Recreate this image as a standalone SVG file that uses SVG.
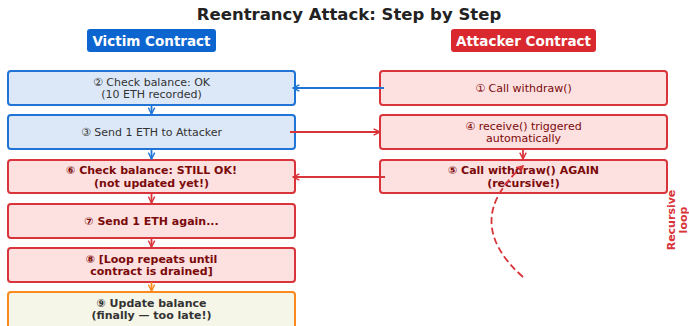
<svg xmlns="http://www.w3.org/2000/svg" width="689" height="326" viewBox="0 0 689 326">
<style>
text{font-family:"DejaVu Sans","Liberation Sans",sans-serif;text-anchor:middle}
.title{font-size:16.5px;font-weight:bold;fill:#222}
.hdr{font-size:13.5px;font-weight:bold;fill:#fff}
.t{font-size:11px}
.b{font-weight:bold}
.blue rect{fill:#dce8f8;stroke:#1f74d6;stroke-width:2}
.red rect{fill:#fde0e0;stroke:#d9343a;stroke-width:2}
.orange rect{fill:#f5f5e8;stroke:#fb8a1e;stroke-width:2}
.gray{fill:#333}
.dred{fill:#7a0a0a}
.cb{stroke:#1f74d6;stroke-width:1.8;fill:none}
.cr{stroke:#d9343a;stroke-width:1.8;fill:none}
.co{stroke:#fb8a1e;stroke-width:1.8;fill:none}
</style>
<defs>
<marker id="ab" viewBox="0 0 10 10" refX="9" refY="5" markerWidth="8" markerHeight="8" markerUnits="userSpaceOnUse" orient="auto"><path d="M1,1 L9,5 L1,9" fill="none" stroke="#1f74d6" stroke-width="1.8"/></marker>
<marker id="ar" viewBox="0 0 10 10" refX="9" refY="5" markerWidth="8" markerHeight="8" markerUnits="userSpaceOnUse" orient="auto"><path d="M1,1 L9,5 L1,9" fill="none" stroke="#d9343a" stroke-width="1.8"/></marker>
<marker id="ao" viewBox="0 0 10 10" refX="9" refY="5" markerWidth="8" markerHeight="8" markerUnits="userSpaceOnUse" orient="auto"><path d="M1,1 L9,5 L1,9" fill="none" stroke="#fb8a1e" stroke-width="1.8"/></marker>
</defs>
<rect width="689" height="326" fill="#fff"/>
<text class="title" x="349" y="20">Reentrancy Attack: Step by Step</text>
<g id="hdr-victim"><rect x="87" y="29" width="129" height="23" rx="3" fill="#0d66d0"/><text class="hdr" x="151.5" y="45.5">Victim Contract</text></g>
<g id="hdr-attacker"><rect x="451" y="29" width="145" height="23" rx="3" fill="#d9282e"/><text class="hdr" x="523.5" y="45.5">Attacker Contract</text></g>

<g id="n2" class="blue"><rect x="8" y="71" width="287" height="34" rx="3"/><text class="t gray" x="151.5" y="85.5">② Check balance: OK</text><text class="t gray" x="151.5" y="98">(10 ETH recorded)</text></g>
<g id="n3" class="blue"><rect x="8" y="115" width="287" height="34" rx="3"/><text class="t gray" x="151.5" y="136">③ Send 1 ETH to Attacker</text></g>
<g id="n6" class="red"><rect x="8" y="160" width="287" height="33" rx="3"/><text class="t b dred" x="151.5" y="174">⑥ Check balance: STILL OK!</text><text class="t b dred" x="151.5" y="186.5">(not updated yet!)</text></g>
<g id="n7" class="red"><rect x="8" y="204" width="287" height="34" rx="3"/><text class="t b dred" x="151.5" y="224.5">⑦ Send 1 ETH again...</text></g>
<g id="n8" class="red"><rect x="8" y="248" width="287" height="34" rx="3"/><text class="t b dred" x="151.5" y="262.5">⑧ [Loop repeats until</text><text class="t b dred" x="151.5" y="275">contract is drained]</text></g>
<g id="n9" class="orange"><rect x="8" y="292" width="287" height="38" rx="3"/><text class="t b gray" x="151.5" y="306.5">⑨ Update balance</text><text class="t b gray" x="151.5" y="319">(finally — too late!)</text></g>

<g id="n1" class="red"><rect x="380" y="71" width="287" height="34" rx="3"/><text class="t dred" x="523.5" y="92">① Call withdraw()</text></g>
<g id="n4" class="red"><rect x="380" y="115" width="287" height="34" rx="3"/><text class="t dred" x="523.5" y="129.5">④ receive() triggered</text><text class="t dred" x="523.5" y="142">automatically</text></g>
<g id="n5" class="red"><rect x="380" y="160" width="287" height="33" rx="3"/><text class="t b dred" x="523.5" y="174">⑤ Call withdraw() AGAIN</text><text class="t b dred" x="523.5" y="186.5">(recursive!)</text></g>

<g id="connectors">
<line class="cb" x1="151.5" y1="105" x2="151.5" y2="114" marker-end="url(#ab)"/>
<line class="cb" x1="151.5" y1="149" x2="151.5" y2="159" marker-end="url(#ab)"/>
<line class="cr" x1="151.5" y1="193" x2="151.5" y2="203" marker-end="url(#ar)"/>
<line class="cr" x1="151.5" y1="238" x2="151.5" y2="247" marker-end="url(#ar)"/>
<line class="co" x1="151.5" y1="282" x2="151.5" y2="291" marker-end="url(#ao)"/>
<line class="cb" x1="384" y1="88" x2="293" y2="88" marker-end="url(#ab)"/>
<line class="cr" x1="290" y1="132" x2="380" y2="132" marker-end="url(#ar)"/>
<line class="cr" x1="385" y1="177" x2="293" y2="177" marker-end="url(#ar)"/>
<line class="cr" x1="523" y1="149" x2="523" y2="159" marker-end="url(#ar)"/>
<path class="cr" d="M523,277 Q460,221 523,166" stroke-dasharray="7,3.5" stroke-width="2" marker-end="url(#ar)"/>
</g>

<g id="loop-label" transform="translate(677,220) rotate(-90)"><text class="t b" fill="#d9343a" x="0" y="-2">Recursive</text><text class="t b" fill="#d9343a" x="0" y="9.5">loop</text></g>
</svg>
